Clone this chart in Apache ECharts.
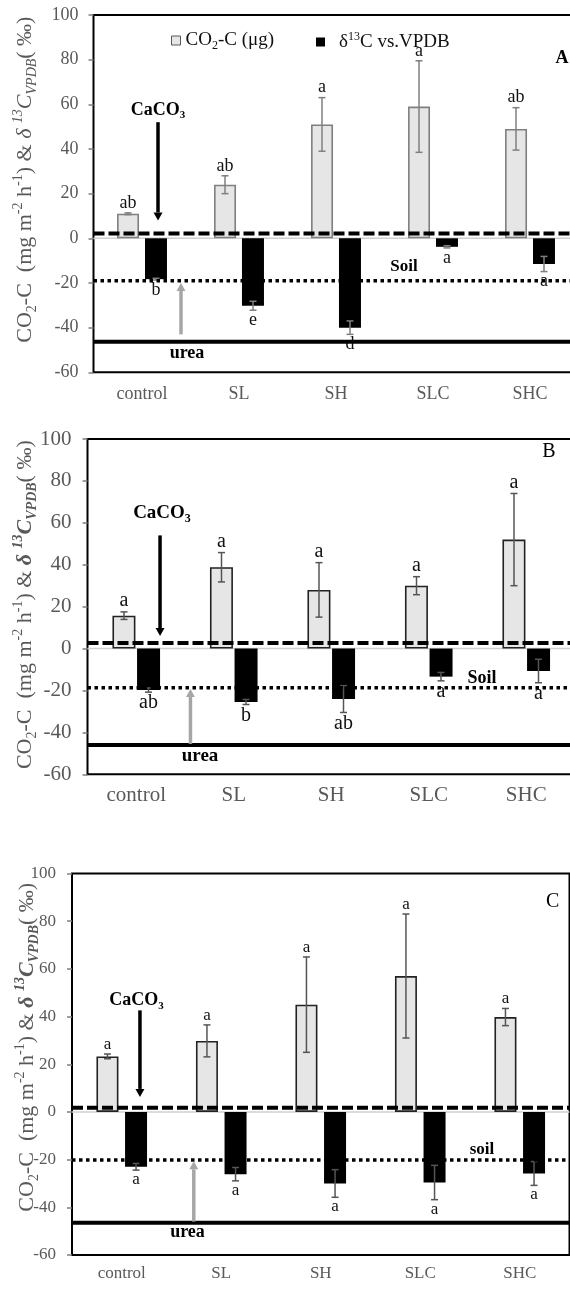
<!DOCTYPE html>
<html><head><meta charset="utf-8">
<script src="https://cdn.jsdelivr.net/npm/echarts@6/dist/echarts.min.js"></script>
<style>html,body{margin:0;padding:0;background:#fff}#c{width:570px;height:1289px}</style>
</head><body><div id="c"></div>
<script>
// ---------------- data ----------------
const categories = ['control', 'SL', 'SH', 'SLC', 'SHC'];
const yMin = -60, yMax = 100, yInterval = 20;

// Panel A
const aCO2 = [11, 24, 51, 59, 49];
const aCO2Err = [0.4, 4, 12, 20.5, 9.5];
const aCO2Letters = ['ab', 'ab', 'a', 'a', 'ab'];
const aD13C = [-18.3, -30.2, -40, -3.8, -11.5];
const aD13CErr = [0.4, 2, 3, 0.5, 3.4];
const aD13CLetters = ['b', 'e', 'd', 'a', 'a'];
const aRefLines = [2.2, -19, -46.3];   // CaCO3, soil, urea

// Panel B
const bCO2 = [15.7, 38.8, 28, 30, 52];
const bCO2Err = [1.8, 7, 13, 4.3, 22];
const bCO2Letters = ['a', 'a', 'a', 'a', 'a'];
const bD13C = [-19.8, -25.5, -24.1, -13.4, -10.7];
const bD13CErr = [1, 1.2, 6.4, 2, 5.6];
const bD13CLetters = ['ab', 'b', 'ab', 'a', 'a'];
const bRefLines = [2.6, -18.7, -46];

// Panel C
const cCO2 = [23.3, 29.8, 45, 57, 39.8];
const cCO2Err = [1, 6.7, 20, 26, 3.6];
const cCO2Letters = ['a', 'a', 'a', 'a', 'a'];
const cD13C = [-23, -26.1, -30, -29.6, -25.8];
const cD13CErr = [1.4, 2.8, 5.8, 7.2, 5];
const cD13CLetters = ['a', 'a', 'a', 'a', 'a'];
const cRefLines = [1.8, -20.2, -46.5];

// annotation anchors in data units (x: category index, y: axis value)
const aNotes = { caco3Arrow: [0.165, 52, 8], ureaArrow: [0.402, -43, -20], caco3Text: [0.165, 57.4], soilText: [2.70, -12.7], ureaText: [0.464, -51.3], panelText: [4.33, 80.7] };
const bNotes = { caco3Arrow: [0.244, 54, 6], ureaArrow: [0.556, -45.5, -19.3], caco3Text: [0.264, 64.6], soilText: [3.546, -14.2], ureaText: [0.654, -51.1], panelText: [4.233, 93.8] };
const cNotes = { caco3Arrow: [0.183, 42.6, 6.3], ureaArrow: [0.724, -46, -20.7], caco3Text: [0.148, 46.8], soilText: [3.62, -16], ureaText: [0.661, -50.3], panelText: [4.33, 88] };

// ---------------- layout / style ----------------
const SERIF = '"Liberation Serif", "Times New Roman", serif';
const GRAY_TXT = '#595959';
const panels = [
  { id: 'A', co2: aCO2, co2Err: aCO2Err, co2L: aCO2Letters, d13: aD13C, d13Err: aD13CErr, d13L: aD13CLetters, refs: aRefLines, notes: aNotes, soil: 'Soil',
    grid: { left: 93.5, top: 15, width: 485, height: 357.3 }, tick: 18, letter: 18, ann: 18, annPanel: 18, panelBold: 'bold',
    barW: 22, gapPx: 6, co2Border: '#7f7f7f', errColor: '#7f7f7f', catMargin: 13, tickMargin: 15, nameGap: 54, nameShift: 28, nameSize: 22, deltaWeight: 'normal' },
  { id: 'B', co2: bCO2, co2Err: bCO2Err, co2L: bCO2Letters, d13: bD13C, d13Err: bD13CErr, d13L: bD13CLetters, refs: bRefLines, notes: bNotes, soil: 'Soil',
    grid: { left: 87.5, top: 439, width: 487.5, height: 335.3 }, tick: 21, letter: 20, ann: 19, annPanel: 20, panelBold: 'normal',
    barW: 23, gapPx: 1.5, co2Border: '#222', errColor: '#555', catMargin: 11, tickMargin: 16, nameGap: 48, nameShift: 4, nameSize: 22, deltaWeight: 'bold' },
  { id: 'C', co2: cCO2, co2Err: cCO2Err, co2L: cCO2Letters, d13: cD13C, d13Err: cD13CErr, d13L: cD13CLetters, refs: cRefLines, notes: cNotes, soil: 'soil',
    grid: { left: 72, top: 873.5, width: 497.5, height: 381.5 }, tick: 17, letter: 17, ann: 18, annPanel: 20, panelBold: 'normal',
    barW: 22, gapPx: 6.6, co2Border: '#222', errColor: '#555', catMargin: 10, tickMargin: 16, nameGap: 31, nameShift: 34, nameSize: 22, deltaWeight: 'bold' }
];

const grids = [], xAxes = [], yAxes = [], series = [];

function errRender(offset, letters, fontSize, up, color) {
  return function (params, api) {
    const i = api.value(0), v = api.value(1), e = api.value(2);
    const cx = api.coord([i, v])[0] + offset;
    const yHi = api.coord([i, v + e])[1];
    const yLo = api.coord([i, v - e])[1];
    const cap = 3.5;
    const st = { stroke: color, lineWidth: 1.5 };
    return { type: 'group', children: [
      { type: 'line', shape: { x1: cx, y1: yHi, x2: cx, y2: yLo }, style: st },
      { type: 'line', shape: { x1: cx - cap, y1: yHi, x2: cx + cap, y2: yHi }, style: st },
      { type: 'line', shape: { x1: cx - cap, y1: yLo, x2: cx + cap, y2: yLo }, style: st },
      { type: 'text', style: { text: letters[params.dataIndex], x: cx, y: up ? yHi - 1 : yLo + 1, align: 'center', verticalAlign: up ? 'bottom' : 'top', fontFamily: SERIF, fontSize: fontSize, fill: '#111' } }
    ] };
  };
}

function subRich(size) {
  return {
    b: { fontFamily: SERIF, fontSize: size, fontWeight: 'bold', color: '#000', lineHeight: size + 4 },
    bs: { fontFamily: SERIF, fontSize: Math.round(size * 0.62), fontWeight: 'bold', color: '#000', lineHeight: Math.round(size * 0.62), verticalAlign: 'bottom' }
  };
}

function annotRender(items) {
  return function (params, api) {
    const it = items[params.dataIndex];
    if (it.type === 'hline') {
      const p1 = api.coord([-0.5, it.y]), p2 = api.coord([4.5, it.y]);
      return { type: 'line', shape: { x1: p1[0], y1: p1[1], x2: p2[0], y2: p2[1] },
        style: { stroke: it.color, lineWidth: it.width, lineDash: it.dash || null, lineCap: 'butt' } };
    }
    if (it.type === 'arrow') {
      const p1 = api.coord([it.x, it.from]), p2 = api.coord([it.x, it.to]);
      const dir = p2[1] > p1[1] ? 1 : -1;
      const hl = 8, hw = 4.5;
      const by = p2[1] - dir * hl;
      return { type: 'group', children: [
        { type: 'line', shape: { x1: p1[0], y1: p1[1], x2: p1[0], y2: by }, style: { stroke: it.color, lineWidth: 3.5 } },
        { type: 'polygon', shape: { points: [[p2[0], p2[1]], [p2[0] - hw, by], [p2[0] + hw, by]] }, style: { fill: it.color } }
      ] };
    }
    const p = api.coord([it.x, it.y]);
    return { type: 'text', style: { text: it.text, x: p[0], y: p[1], align: 'center', verticalAlign: 'middle',
      fontFamily: SERIF, fontSize: it.size, fontWeight: it.weight, fill: '#000', rich: it.rich || undefined } };
  };
}

panels.forEach(function (p, g) {
  grids.push({ left: p.grid.left, top: p.grid.top, width: p.grid.width, height: p.grid.height, show: true, borderColor: '#000', borderWidth: 2,
    backgroundColor: 'transparent', containLabel: false, outerBoundsMode: 'none' });
  xAxes.push({ type: 'category', gridIndex: g, data: categories, axisLine: { show: false, onZero: false }, axisTick: { show: false },
    axisLabel: { fontFamily: SERIF, fontSize: p.tick, color: GRAY_TXT, margin: p.catMargin, interval: 0 } });
  xAxes.push({ type: 'value', gridIndex: g, min: -0.5, max: 4.5, show: false, axisLine: { onZero: false } });
  const ns = p.nameSize, sm = Math.round(ns * 0.62);
  const dw = p.deltaWeight;
  yAxes.push({ type: 'value', gridIndex: g, min: yMin, max: yMax, interval: yInterval,
    axisLine: { show: false, onZero: false }, splitLine: { show: false },
    axisTick: { show: true, length: 5, lineStyle: { color: '#7f7f7f', width: 1.5 } },
    axisLabel: { fontFamily: SERIF, fontSize: p.tick, color: GRAY_TXT, margin: p.tickMargin },
    name: '{n|CO}{sub|2}{n|-C  (mg m}{sup|-2}{n| h}{sup|-1}{n|) & }{i|δ }{isup|13}{i|C}{isub|VPDB}{n|( ‰)}',
    nameLocation: 'middle', nameRotate: 90, nameGap: p.nameGap, nameMoveOverlap: false,
    nameTextStyle: { padding: [0, 0, 0, p.nameShift], rich: {
      n: { fontFamily: SERIF, fontSize: ns, color: GRAY_TXT, lineHeight: ns + 6 },
      sub: { fontFamily: SERIF, fontSize: sm, color: GRAY_TXT, lineHeight: sm, verticalAlign: 'bottom' },
      sup: { fontFamily: SERIF, fontSize: sm, color: GRAY_TXT, lineHeight: sm, verticalAlign: 'top' },
      i: { fontFamily: SERIF, fontSize: ns, fontStyle: 'italic', fontWeight: dw, color: GRAY_TXT, lineHeight: ns + 6 },
      isup: { fontFamily: SERIF, fontSize: sm, fontStyle: 'italic', fontWeight: dw, color: GRAY_TXT, lineHeight: sm, verticalAlign: 'top' },
      isub: { fontFamily: SERIF, fontSize: sm, fontStyle: 'italic', fontWeight: dw, color: GRAY_TXT, lineHeight: sm, verticalAlign: 'bottom' }
    } } });

  const off = (p.barW + p.gapPx) / 2;
  const gapPct = Math.round(p.gapPx / p.barW * 100) + '%';
  series.push({ name: 'co2' + p.id, type: 'bar', xAxisIndex: g * 2, yAxisIndex: g, data: p.co2, barWidth: p.barW, barGap: gapPct, z: 2,
    itemStyle: { color: '#e6e6e6', borderColor: p.co2Border, borderWidth: 1.6 } });
  series.push({ name: 'd13' + p.id, type: 'bar', xAxisIndex: g * 2, yAxisIndex: g, data: p.d13, barWidth: p.barW, barGap: gapPct, z: 2,
    itemStyle: { color: '#000' } });

  series.push({ type: 'custom', xAxisIndex: g * 2 + 1, yAxisIndex: g, z: 3, silent: true,
    data: p.co2.map(function (v, i) { return [i, v, p.co2Err[i]]; }),
    renderItem: errRender(-off, p.co2L, p.letter, true, p.errColor) });
  series.push({ type: 'custom', xAxisIndex: g * 2 + 1, yAxisIndex: g, z: 3, silent: true,
    data: p.d13.map(function (v, i) { return [i, v, p.d13Err[i]]; }),
    renderItem: errRender(off, p.d13L, p.letter, false, p.errColor) });

  const bg = [{ type: 'hline', y: 0, color: '#d0d0d0', width: 1.5 }];
  series.push({ type: 'custom', xAxisIndex: g * 2 + 1, yAxisIndex: g, z: 1, silent: true,
    data: bg.map(function (it) { return [0, it.y]; }), renderItem: annotRender(bg) });

  const N = p.notes;
  const rich = subRich(p.ann);
  const fg = [
    { type: 'hline', y: p.refs[0], color: '#000', width: 4, dash: [11, 4] },
    { type: 'hline', y: p.refs[1], color: '#000', width: 3.5, dash: [3.5, 3.5] },
    { type: 'hline', y: p.refs[2], color: '#000', width: 4 },
    { type: 'arrow', x: N.caco3Arrow[0], from: N.caco3Arrow[1], to: N.caco3Arrow[2], color: '#000' },
    { type: 'arrow', x: N.ureaArrow[0], from: N.ureaArrow[1], to: N.ureaArrow[2], color: '#a6a6a6' },
    { type: 'text', x: N.caco3Text[0], y: N.caco3Text[1], text: '{b|CaCO}{bs|3}', size: p.ann, weight: 'bold', rich: rich },
    { type: 'text', x: N.soilText[0], y: N.soilText[1], text: p.soil, size: p.ann - 1, weight: 'bold' },
    { type: 'text', x: N.ureaText[0], y: N.ureaText[1], text: 'urea', size: p.ann, weight: 'bold' },
    { type: 'text', x: N.panelText[0], y: N.panelText[1], text: p.id, size: p.annPanel, weight: p.panelBold }
  ];
  series.push({ type: 'custom', xAxisIndex: g * 2 + 1, yAxisIndex: g, z: 4, silent: true,
    data: fg.map(function (it) { return [it.x || 0, it.y || it.from || 0]; }), renderItem: annotRender(fg) });
});

const legRich = {
  n: { fontFamily: SERIF, fontSize: 19, color: '#111', lineHeight: 22 },
  sub: { fontFamily: SERIF, fontSize: 12, color: '#111', lineHeight: 12, verticalAlign: 'bottom' },
  sup: { fontFamily: SERIF, fontSize: 12, color: '#111', lineHeight: 12, verticalAlign: 'top' }
};

const chart = echarts.init(document.getElementById('c'), null, { renderer: 'canvas', width: 570, height: 1289 });
chart.setOption({
  animation: false,
  backgroundColor: '#fff',
  grid: grids, xAxis: xAxes, yAxis: yAxes, series: series,
  legend: [
    { data: [{ name: 'co2A', icon: 'rect', itemStyle: { color: '#e6e6e6', borderColor: '#595959', borderWidth: 1 } }],
      left: 166, top: 26, itemWidth: 9, itemHeight: 9, selectedMode: false,
      formatter: function () { return '{n|CO}{sub|2}{n|-C (μg)}'; }, textStyle: { rich: legRich } },
    { data: [{ name: 'd13A', icon: 'rect', itemStyle: { color: '#000' } }],
      left: 311, top: 26, itemWidth: 9, itemHeight: 9, selectedMode: false,
      formatter: function () { return '{n|δ}{sup|13}{n|C vs.VPDB}'; }, textStyle: { rich: legRich, padding: [0, 0, 0, 9] } }
  ]
});
</script>
</body></html>
